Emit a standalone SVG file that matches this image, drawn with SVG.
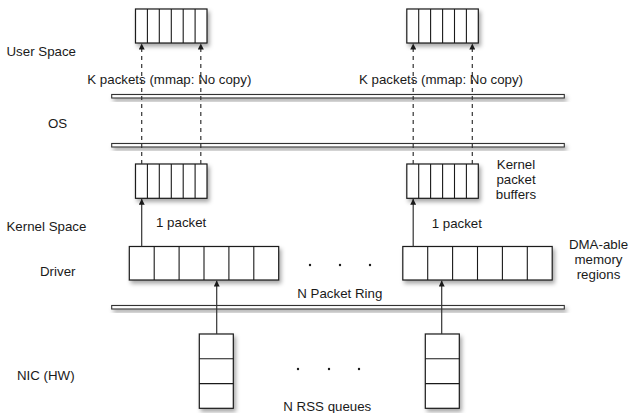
<svg xmlns="http://www.w3.org/2000/svg" width="631" height="413" viewBox="0 0 631 413">
<defs>
<style>
text{font-family:"Liberation Sans",Arial,sans-serif;font-size:13.3px;fill:#1a1a1a}
.box{fill:#fff;stroke:#1a1a1a;stroke-width:1.2}
.cell{stroke:#1a1a1a;stroke-width:1.1;fill:none}
.bar{fill:#fff;stroke:#333;stroke-width:1.1}
.dash{stroke:#333;stroke-width:1.2;stroke-dasharray:4 4;fill:none}
.solid{stroke:#333;stroke-width:1.2;fill:none}
.dot{fill:#1a1a1a}
</style>
<filter id="sh" x="-20%" y="-50%" width="140%" height="250%">
<feDropShadow dx="2" dy="3" stdDeviation="2" flood-color="#000" flood-opacity="0.35"/>
</filter>
<marker id="ah" viewBox="0 0 10 10" refX="10" refY="5" markerWidth="6" markerHeight="6" orient="auto" markerUnits="userSpaceOnUse">
<path d="M0,0 L10,5 L0,10 z" fill="#1a1a1a"/>
</marker>
</defs>

<g id="labels">
<text x="6.5" y="56">User Space</text>
<text x="48" y="128">OS</text>
<text x="6.5" y="231">Kernel Space</text>
<text x="40" y="276">Driver</text>
<text x="17" y="380">NIC (HW)</text>
</g>

<g id="bars">
<rect class="bar" x="111.7" y="94.5" width="452.6" height="3.5" filter="url(#sh)"/>
<rect class="bar" x="111.7" y="143.5" width="452.6" height="3.5" filter="url(#sh)"/>
<rect class="bar" x="111.7" y="305.5" width="452.6" height="3.5" filter="url(#sh)"/>
</g>

<g id="user-buf-left">
<rect class="box" x="135.5" y="9" width="71.5" height="34" filter="url(#sh)"/>
<path class="cell" d="M147.4,9V43M159.3,9V43M171.3,9V43M183.2,9V43M195.1,9V43"/>
</g>
<g id="user-buf-right">
<rect class="box" x="406.8" y="9" width="71.5" height="34" filter="url(#sh)"/>
<path class="cell" d="M418.7,9V43M430.6,9V43M442.6,9V43M454.5,9V43M466.4,9V43"/>
</g>

<g id="kernel-buf-left">
<rect class="box" x="135.5" y="164" width="71.5" height="34.3" filter="url(#sh)"/>
<path class="cell" d="M147.4,164V198.3M159.3,164V198.3M171.3,164V198.3M183.2,164V198.3M195.1,164V198.3"/>
</g>
<g id="kernel-buf-right">
<rect class="box" x="406.8" y="164" width="71.5" height="34.3" filter="url(#sh)"/>
<path class="cell" d="M418.7,164V198.3M430.6,164V198.3M442.6,164V198.3M454.5,164V198.3M466.4,164V198.3"/>
</g>

<g id="ring-left">
<rect class="box" x="129.3" y="246.5" width="149.4" height="33.5" filter="url(#sh)"/>
<path class="cell" d="M154.2,246.5V280M179.1,246.5V280M204,246.5V280M228.9,246.5V280M253.8,246.5V280"/>
</g>
<g id="ring-right">
<rect class="box" x="402.8" y="246.5" width="149.4" height="33.5" filter="url(#sh)"/>
<path class="cell" d="M427.7,246.5V280M452.6,246.5V280M477.5,246.5V280M502.4,246.5V280M527.3,246.5V280"/>
</g>

<g id="nic-left">
<rect class="box" x="199.3" y="334" width="34" height="74.3" filter="url(#sh)"/>
<path class="cell" d="M199.3,358.8H233.3M199.3,383.6H233.3"/>
</g>
<g id="nic-right">
<rect class="box" x="425.3" y="334" width="34" height="74.3" filter="url(#sh)"/>
<path class="cell" d="M425.3,358.8H459.3M425.3,383.6H459.3"/>
</g>

<g id="connectors">
<line class="dash" x1="141.7" y1="164" x2="141.7" y2="43.5" marker-end="url(#ah)"/>
<line class="dash" x1="200.8" y1="164" x2="200.8" y2="43.5" marker-end="url(#ah)"/>
<line class="dash" x1="413.2" y1="164" x2="413.2" y2="43.5" marker-end="url(#ah)"/>
<line class="dash" x1="472.3" y1="164" x2="472.3" y2="43.5" marker-end="url(#ah)"/>
<line class="solid" x1="141.7" y1="246.5" x2="141.7" y2="198.8" marker-end="url(#ah)"/>
<line class="solid" x1="413.2" y1="246.5" x2="413.2" y2="198.8" marker-end="url(#ah)"/>
<line class="solid" x1="216.7" y1="334" x2="216.7" y2="280.5" marker-end="url(#ah)"/>
<line class="solid" x1="441.7" y1="334" x2="441.7" y2="280.5" marker-end="url(#ah)"/>
</g>

<g id="annotations">
<text x="87.3" y="84">K packets (mmap: No copy)</text>
<text x="359" y="84">K packets (mmap: No copy)</text>
<text x="516" y="169" text-anchor="middle">Kernel</text>
<text x="516" y="184" text-anchor="middle">packet</text>
<text x="516" y="199" text-anchor="middle">buffers</text>
<text x="156" y="227">1 packet</text>
<text x="431.7" y="228">1 packet</text>
<text x="598.5" y="249" text-anchor="middle">DMA-able</text>
<text x="598.5" y="264" text-anchor="middle">memory</text>
<text x="598.5" y="279" text-anchor="middle">regions</text>
<text x="297.3" y="298">N Packet Ring</text>
<text x="283.3" y="411">N RSS queues</text>
<circle class="dot" cx="310" cy="265" r="1.2"/>
<circle class="dot" cx="340" cy="265" r="1.2"/>
<circle class="dot" cx="370" cy="265" r="1.2"/>
<circle class="dot" cx="298" cy="369" r="1.2"/>
<circle class="dot" cx="329" cy="369" r="1.2"/>
<circle class="dot" cx="359" cy="369" r="1.2"/>
</g>
</svg>
